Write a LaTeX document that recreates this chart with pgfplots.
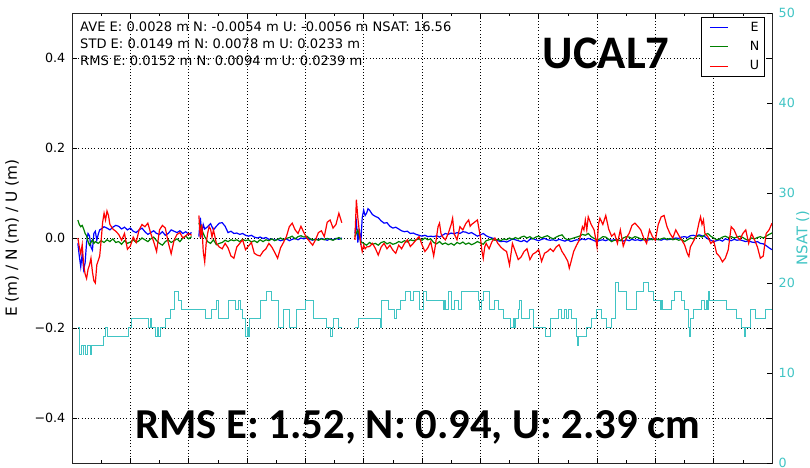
\documentclass[border=0pt]{standalone}
\usepackage{fontspec}
\setmainfont{DejaVu Sans}
\newfontfamily\calib{Carlito}
\usepackage{pgfplots}
\pgfplotsset{compat=1.18}
\definecolor{nsat}{rgb}{0.25,0.77,0.77}
\definecolor{mplb}{rgb}{0,0,1}
\definecolor{mplg}{rgb}{0,0.5,0}
\definecolor{mplr}{rgb}{1,0,0}
\begin{document}
\begin{tikzpicture}
\begin{axis}[
  name=ax,
  scale only axis, width=525pt, height=337.5pt,
  xmin=0, xmax=24, ymin=-0.5, ymax=0.5,
  xtick={0,2,...,24}, minor xtick={1,3,...,23}, xticklabels={},
  ytick={-0.4,-0.2,0,0.2,0.4}, yticklabels={−0.4,−0.2,0.0,0.2,0.4},
  tick align=inside, major tick length=4pt, minor tick length=2pt,
  tick style={black, line width=0.5pt},
  grid=major, major grid style={dotted, line width=0.5pt, black},
  axis line style={line width=0.7pt, black!85},
  unbounded coords=jump,
  tick label style={font=\fontsize{9.5}{11}\selectfont},
  yticklabel style={xshift=-1.5pt},
  ylabel={E (m) / N (m) / U (m)},
  every axis y label/.style={at={(axis description cs:-0.0857,0.5)}, rotate=90, anchor=center, font=\fontsize{11.5}{13}\selectfont},
  legend style={at={(rel axis cs:0.99,0.991)}, anchor=north east, draw=black, line width=0.6pt, font=\fontsize{9.5}{11}\selectfont, inner xsep=2pt, inner ysep=1.5pt, row sep=2pt, fill=white},
  legend image code/.code={\path[draw=none, fill=none] (0pt,-5pt) rectangle (32pt,6pt); \draw[#1, line width=0.7pt] (4pt,0pt) -- (18pt,0pt);},
]
\addplot[mplb, line width=0.9pt] coordinates {
(0.20,-0.012) (0.25,-0.040) (0.30,-0.064) (0.35,-0.035) (0.40,-0.070) (0.45,-0.055) (0.50,-0.010) (0.55,0.010) (0.60,0.005) (0.65,-0.020) (0.70,-0.027) (0.75,0.010) (0.80,0.015) (0.85,-0.005) (0.90,0.008) (0.95,0.018) (1.00,0.020) (1.10,0.025) (1.20,0.022) (1.30,0.018) (1.40,0.024) (1.50,0.028) (1.60,0.026) (1.70,0.020) (1.80,0.024) (1.90,0.018) (2.00,0.022) (2.10,0.015) (2.20,0.012) (2.30,0.018) (2.40,0.022) (2.50,0.014) (2.60,0.008) (2.70,0.012) (2.80,0.016) (2.90,0.010) (3.00,0.008) (3.10,0.014) (3.20,0.006) (3.30,0.010) (3.40,0.018) (3.50,0.015) (3.60,0.012) (3.70,0.016) (3.80,0.010) (3.90,0.014) (4.00,0.008) (4.10,0.012) (4.2,nan)
(4.35,0.003) (4.40,0.045) (4.45,0.010) (4.50,0.030) (4.55,0.020) (4.65,0.025) (4.75,0.032) (4.85,0.018) (4.95,0.026) (5.05,0.033) (5.15,0.034) (5.25,0.026) (5.35,0.012) (5.45,0.015) (5.55,0.010) (5.65,0.011) (5.75,0.008) (5.85,0.010) (5.95,0.006) (6.05,0.004) (6.15,0.006) (6.25,0.002) (6.35,0.000) (6.45,0.002) (6.55,-0.001) (6.65,0.001) (6.75,-0.003) (6.85,-0.002) (6.95,-0.005) (7.05,-0.003) (7.15,-0.006) (7.25,-0.004) (7.35,-0.002) (7.45,-0.006) (7.55,-0.003) (7.65,-0.001) (7.75,-0.004) (7.85,0.000) (7.95,-0.002) (8.05,0.001) (8.15,-0.003) (8.25,-0.005) (8.35,-0.002) (8.45,-0.004) (8.55,-0.001) (8.65,-0.003) (8.75,-0.005) (8.85,-0.002) (8.95,-0.004) (9.05,-0.001) (9.15,-0.003) (9.25,0.000) (9.4,nan)
(9.70,0.010) (9.75,0.035) (9.80,-0.010) (9.85,0.020) (9.90,-0.015) (9.95,0.045) (10.00,0.062) (10.05,0.050) (10.10,0.055) (10.15,0.065) (10.20,0.062) (10.30,0.052) (10.40,0.048) (10.50,0.045) (10.60,0.038) (10.70,0.033) (10.80,0.034) (10.90,0.026) (11.00,0.022) (11.10,0.024) (11.20,0.020) (11.30,0.016) (11.40,0.014) (11.50,0.015) (11.60,0.010) (11.70,0.011) (11.80,0.008) (11.90,0.006) (12.00,0.004) (12.10,0.006) (12.20,0.003) (12.30,0.004)
(12.40,0.003) (12.50,0.005) (12.60,0.002) (12.70,0.006) (12.80,0.010) (12.90,0.008) (13.00,0.011) (13.10,0.009) (13.20,0.012) (13.30,0.010) (13.40,0.014) (13.50,0.013) (13.60,0.010) (13.70,0.012) (13.80,0.008) (13.90,0.004) (14.00,0.007) (14.10,0.010) (14.20,0.005) (14.30,0.002) (14.40,0.000) (14.50,-0.002) (14.60,-0.006) (14.70,-0.008) (14.80,-0.007) (14.90,-0.009) (15.00,-0.006) (15.10,-0.002) (15.20,-0.004) (15.30,-0.006) (15.40,-0.008) (15.50,-0.005) (15.60,-0.009) (15.70,-0.003) (15.80,-0.001) (15.90,-0.004) (16.00,-0.006) (16.10,-0.003) (16.20,-0.001) (16.30,-0.004) (16.40,-0.005)
(16.50,-0.004) (16.60,-0.006) (16.70,-0.003) (16.80,-0.005) (16.90,-0.007) (17.00,-0.004) (17.10,-0.008) (17.20,-0.006) (17.30,-0.004) (17.40,-0.005) (17.50,-0.002) (17.60,-0.004) (17.70,-0.001) (17.80,-0.003) (17.90,-0.006) (18.00,-0.008) (18.10,-0.005) (18.20,-0.004) (18.30,-0.006) (18.40,-0.003) (18.50,-0.005) (18.60,-0.004) (18.70,-0.006) (18.80,-0.005) (18.90,-0.007) (19.00,-0.004) (19.10,-0.006) (19.20,-0.003) (19.30,-0.005) (19.40,-0.004) (19.50,-0.006) (19.60,-0.003) (19.70,-0.005) (19.80,-0.004) (19.90,-0.002) (20.00,-0.004) (20.10,-0.003) (20.20,-0.005) (20.30,-0.002) (20.40,-0.004) (20.50,-0.003)
(20.60,-0.002) (20.70,0.000) (20.80,-0.001) (20.90,0.002) (21.00,0.003) (21.10,0.001) (21.20,0.005) (21.30,0.006) (21.40,0.004) (21.50,0.007) (21.60,0.005) (21.70,0.003) (21.80,-0.002) (21.90,-0.005) (22.00,-0.008) (22.10,-0.006) (22.20,-0.004) (22.30,-0.007) (22.40,-0.002) (22.50,-0.004) (22.60,-0.006) (22.70,-0.003) (22.80,-0.005) (22.90,-0.004) (23.00,-0.006) (23.10,-0.008) (23.20,-0.006) (23.30,-0.009) (23.40,-0.010) (23.50,-0.008) (23.60,-0.012) (23.70,-0.013) (23.80,-0.017) (23.90,-0.022) (24.00,-0.026)
};
\addlegendentry{E}
\addplot[mplg, line width=0.9pt] coordinates {
(0.20,0.040) (0.25,0.030) (0.30,0.025) (0.35,0.028) (0.40,0.020) (0.45,0.010) (0.50,0.005) (0.55,-0.008) (0.60,-0.016) (0.65,-0.010) (0.70,-0.004) (0.75,-0.012) (0.80,-0.008) (0.90,-0.012) (1.00,-0.006) (1.10,-0.010) (1.20,-0.004) (1.30,-0.008) (1.40,-0.002) (1.50,-0.010) (1.60,-0.008) (1.70,-0.014) (1.80,-0.006) (1.90,-0.012) (2.00,-0.009) (2.10,-0.004) (2.20,-0.010) (2.30,-0.006) (2.40,0.000) (2.50,-0.004) (2.60,-0.008) (2.70,-0.002) (2.80,0.002) (2.90,-0.006) (3.00,-0.012) (3.10,-0.016) (3.20,-0.008) (3.30,-0.004) (3.40,-0.010) (3.50,-0.006) (3.60,-0.002) (3.70,-0.008) (3.80,0.000) (3.90,0.004) (4.00,-0.002) (4.10,0.003) (4.2,nan)
(4.35,0.033) (4.45,0.018) (4.55,0.003) (4.65,-0.008) (4.75,-0.012) (4.85,-0.004) (4.95,-0.015) (5.05,-0.012) (5.15,-0.010) (5.25,-0.005) (5.35,-0.008) (5.45,-0.004) (5.55,-0.006) (5.65,-0.004) (5.75,-0.008) (5.85,-0.003) (5.95,-0.006) (6.05,-0.004) (6.15,-0.009) (6.25,-0.006) (6.35,-0.010) (6.45,-0.004) (6.55,-0.008) (6.65,-0.004) (6.75,-0.006) (6.85,-0.002) (6.95,-0.006) (7.05,-0.003) (7.15,0.000) (7.25,-0.004) (7.35,-0.001) (7.45,0.001) (7.55,0.004) (7.65,-0.002) (7.75,0.003) (7.85,0.005) (7.95,0.002) (8.05,0.004) (8.15,-0.001) (8.25,-0.004) (8.35,-0.003) (8.45,-0.005) (8.55,-0.002) (8.65,-0.004) (8.75,-0.001) (8.85,-0.003) (8.95,-0.005) (9.05,-0.002) (9.15,0.001) (9.25,-0.003) (9.4,nan)
(9.70,0.003) (9.80,0.018) (9.90,-0.008) (10.00,-0.012) (10.10,-0.016) (10.20,-0.010) (10.30,-0.014) (10.40,-0.012) (10.50,-0.016) (10.60,-0.010) (10.70,-0.008) (10.80,-0.013) (10.90,-0.010) (11.00,-0.014) (11.10,-0.012) (11.20,-0.008) (11.30,-0.010) (11.40,-0.006) (11.50,-0.009) (11.60,-0.004) (11.70,-0.006) (11.80,-0.004) (11.90,-0.002) (12.00,-0.005) (12.10,0.000) (12.20,-0.004) (12.30,-0.002)
(12.40,-0.010) (12.50,-0.013) (12.60,-0.008) (12.70,-0.014) (12.80,-0.011) (12.90,-0.015) (13.00,-0.012) (13.10,-0.016) (13.20,-0.010) (13.30,-0.013) (13.40,-0.009) (13.50,-0.014) (13.60,-0.011) (13.70,-0.015) (13.80,-0.012) (13.90,-0.008) (14.00,-0.011) (14.10,-0.014) (14.20,-0.006) (14.30,-0.004) (14.40,-0.002) (14.50,-0.005) (14.60,-0.003) (14.70,-0.006) (14.80,-0.002) (14.90,-0.004) (15.00,0.000) (15.10,-0.003) (15.20,0.001) (15.30,-0.002) (15.40,0.002) (15.50,0.004) (15.60,0.000) (15.70,0.003) (15.80,-0.002) (15.90,0.002) (16.00,0.004) (16.10,0.000) (16.20,0.003) (16.30,0.005) (16.40,0.001)
(16.50,-0.002) (16.60,0.002) (16.70,0.005) (16.80,0.007) (16.90,-0.001) (17.00,-0.004) (17.10,-0.002) (17.20,0.000) (17.30,0.002) (17.40,0.004) (17.50,0.008) (17.60,0.006) (17.70,0.010) (17.80,0.003) (17.90,-0.001) (18.00,-0.004) (18.10,-0.002) (18.20,0.003) (18.30,0.002) (18.40,-0.003) (18.50,-0.008) (18.60,-0.005) (18.70,-0.004) (18.80,-0.006) (18.90,0.000) (19.00,0.003) (19.10,0.002) (19.20,-0.001) (19.30,0.003) (19.40,0.001) (19.50,-0.002) (19.60,-0.004) (19.70,-0.003) (19.80,-0.001) (19.90,-0.004) (20.00,-0.001) (20.10,-0.004) (20.20,-0.002) (20.30,0.000) (20.40,-0.003) (20.50,-0.001)
(20.60,-0.004) (20.70,-0.002) (20.80,-0.005) (20.90,-0.003) (21.00,-0.008) (21.10,-0.004) (21.20,0.000) (21.30,-0.002) (21.40,0.003) (21.50,0.005) (21.60,0.002) (21.70,0.007) (21.80,0.010) (21.90,0.004) (22.00,0.000) (22.10,-0.004) (22.20,-0.002) (22.30,0.002) (22.40,0.004) (22.50,0.001) (22.60,0.003) (22.70,0.000) (22.80,0.002) (22.90,0.004) (23.00,0.001) (23.10,-0.003) (23.20,-0.005) (23.30,0.000) (23.40,-0.002) (23.50,0.001) (23.60,0.003) (23.70,0.000) (23.80,0.004) (23.90,0.008) (24.00,0.011)
};
\addlegendentry{N}
\addplot[mplr, line width=0.9pt] coordinates {
(0.20,0.000) (0.25,-0.020) (0.30,-0.035) (0.35,-0.015) (0.40,-0.060) (0.45,-0.080) (0.50,-0.090) (0.55,-0.070) (0.60,-0.060) (0.65,-0.045) (0.70,-0.075) (0.75,-0.095) (0.80,-0.100) (0.85,-0.060) (0.90,-0.050) (0.95,-0.040) (1.00,-0.005) (1.05,0.035) (1.10,0.055) (1.15,0.040) (1.20,0.060) (1.25,0.050) (1.30,0.030) (1.40,0.020) (1.50,0.015) (1.60,0.008) (1.70,-0.005) (1.80,0.010) (1.90,-0.025) (2.00,-0.018) (2.10,0.002) (2.20,-0.010) (2.30,0.018) (2.40,0.030) (2.50,0.025) (2.60,0.033) (2.70,0.010) (2.80,-0.008) (2.90,-0.030) (3.00,0.018) (3.10,0.028) (3.20,0.022) (3.30,-0.010) (3.40,-0.035) (3.50,-0.005) (3.60,0.008) (3.70,0.012) (3.80,0.000) (3.90,0.005) (4.00,0.010) (4.10,0.006) (4.2,nan)
(4.35,0.050) (4.40,0.000) (4.45,0.030) (4.50,-0.030) (4.55,-0.053) (4.60,-0.012) (4.65,0.010) (4.70,0.025) (4.75,0.020) (4.80,0.002) (4.85,0.018) (4.95,-0.012) (5.05,-0.020) (5.15,-0.024) (5.25,-0.012) (5.35,-0.022) (5.45,-0.040) (5.55,-0.045) (5.65,-0.020) (5.75,-0.012) (5.85,-0.004) (5.95,-0.026) (6.05,-0.018) (6.15,-0.010) (6.25,-0.034) (6.35,-0.038) (6.45,-0.040) (6.55,-0.030) (6.65,-0.024) (6.75,-0.012) (6.85,-0.020) (6.95,-0.032) (7.05,-0.045) (7.15,-0.022) (7.25,-0.010) (7.35,0.003) (7.45,0.025) (7.55,0.033) (7.65,0.018) (7.75,0.010) (7.85,0.026) (7.95,0.012) (8.05,0.000) (8.15,-0.008) (8.25,-0.016) (8.35,-0.004) (8.45,0.012) (8.55,0.016) (8.65,0.003) (8.75,0.035) (8.85,0.040) (8.95,0.022) (9.05,0.030) (9.15,0.055) (9.25,0.034) (9.4,nan)
(9.70,-0.004) (9.75,0.085) (9.80,0.045) (9.85,0.015) (9.90,-0.012) (9.95,-0.030) (10.00,-0.016) (10.05,-0.024) (10.10,-0.020) (10.20,-0.019) (10.30,-0.012) (10.40,-0.023) (10.50,-0.038) (10.60,-0.020) (10.70,-0.012) (10.80,-0.024) (10.90,-0.016) (11.00,-0.027) (11.10,-0.034) (11.20,-0.016) (11.30,-0.024) (11.40,-0.012) (11.50,-0.004) (11.60,-0.019) (11.70,-0.012) (11.80,-0.004) (11.90,0.003) (12.00,-0.015) (12.10,-0.030) (12.20,-0.022) (12.30,-0.008)
(12.40,-0.040) (12.45,-0.020) (12.50,0.003) (12.55,0.025) (12.60,0.033) (12.65,0.010) (12.70,0.003) (12.80,-0.004) (12.90,0.010) (13.00,0.030) (13.05,0.044) (13.10,0.010) (13.20,-0.004) (13.30,0.025) (13.40,0.018) (13.50,0.032) (13.60,0.040) (13.65,0.026) (13.70,0.030) (13.80,0.035) (13.90,0.040) (14.00,0.003) (14.05,-0.027) (14.10,-0.045) (14.15,-0.020) (14.20,-0.012) (14.30,-0.024) (14.40,-0.008) (14.50,0.000) (14.60,-0.012) (14.70,-0.020) (14.80,-0.026) (14.90,-0.030) (15.00,-0.060) (15.05,-0.036) (15.10,-0.012) (15.20,-0.030) (15.30,-0.048) (15.40,-0.042) (15.50,-0.030) (15.60,-0.024) (15.70,-0.048) (15.80,-0.036) (15.90,-0.032) (16.00,-0.026) (16.10,-0.052) (16.20,-0.034) (16.30,-0.030) (16.40,-0.024)
(16.50,-0.030) (16.60,-0.020) (16.70,-0.015) (16.80,-0.030) (16.90,-0.040) (17.00,-0.052) (17.05,-0.067) (17.10,-0.055) (17.20,-0.030) (17.30,-0.016) (17.40,-0.004) (17.50,0.025) (17.55,0.018) (17.60,0.040) (17.65,0.018) (17.70,0.047) (17.80,0.030) (17.90,0.018) (17.95,0.000) (18.00,-0.020) (18.05,0.030) (18.10,0.044) (18.20,0.030) (18.30,0.050) (18.40,0.020) (18.50,0.004) (18.60,0.010) (18.70,-0.012) (18.80,0.018) (18.90,-0.018) (19.00,0.000) (19.10,0.010) (19.20,0.028) (19.30,0.033) (19.40,0.026) (19.50,0.018) (19.60,0.000) (19.70,-0.012) (19.80,0.018) (19.90,0.003) (20.00,-0.005) (20.10,0.030) (20.20,0.047) (20.30,0.050) (20.40,0.025) (20.50,0.010)
(20.60,0.000) (20.70,0.018) (20.80,0.006) (20.90,-0.004) (21.00,-0.015) (21.10,-0.035) (21.15,-0.041) (21.20,-0.020) (21.30,-0.008) (21.40,0.004) (21.50,0.035) (21.55,0.047) (21.60,0.030) (21.65,0.040) (21.70,0.010) (21.80,0.003) (21.90,-0.012) (22.00,-0.006) (22.10,-0.034) (22.20,-0.041) (22.30,-0.053) (22.40,-0.045) (22.50,-0.026) (22.60,0.025) (22.70,0.018) (22.80,0.003) (22.90,-0.004) (23.00,0.010) (23.10,0.018) (23.20,-0.012) (23.30,0.010) (23.40,-0.004) (23.50,-0.020) (23.60,-0.045) (23.70,-0.040) (23.80,0.010) (23.90,0.018) (24.00,0.033)
};
\addlegendentry{U}
\node[anchor=north west, align=left, inner sep=0pt, font=\fontsize{9.8}{12.75}\selectfont] at (rel axis cs:0.0114,0.982) {AVE E: 0.0028 m N: -0.0054 m U: -0.0056 m NSAT: 16.56\\STD E: 0.0149 m N: 0.0078 m U: 0.0233 m\\RMS E: 0.0152 m N: 0.0094 m U: 0.0239 m};
\end{axis}
\begin{axis}[
  scale only axis, width=525pt, height=337.5pt,
  xmin=0, xmax=24, ymin=0, ymax=50,
  axis x line=none, axis y line*=right,
  ytick={0,10,...,50}, yticklabels={0,10,20,30,40,50},
  tick align=inside, major tick length=4pt,
  tick style={black, line width=0.5pt},
  axis line style={line width=0.7pt, black!85},
  unbounded coords=jump,
  yticklabel style={font=\fontsize{9.5}{11}\selectfont, text=nsat, xshift=1.5pt},
  ylabel={NSAT ()},
  every axis y label/.style={at={(axis description cs:1.044,0.5)}, rotate=90, anchor=center, font=\fontsize{11}{13}\selectfont, text=nsat},
]
\addplot[nsat, line width=0.75pt, const plot] coordinates {
(0.21,15) (0.25,12) (0.32,13) (0.38,12) (0.41,13) (0.48,12) (0.52,13) (0.62,12) (0.68,13) (1.07,14) (1.15,15) (1.22,14) (1.93,15) (2.05,16) (2.62,15) (2.70,16) (2.74,15) (2.85,14) (2.92,15) (2.96,14) (3.02,15) (3.19,16) (3.36,17) (3.53,19) (3.64,18) (3.76,17) (4.56,16) (4.79,17) (4.96,18) (5.02,16) (5.36,18) (5.59,17) (5.70,18) (5.76,17) (5.86,16) (5.95,14) (6.00,15) (6.05,14) (6.10,16) (6.45,18) (6.67,19) (6.85,18) (7.07,15) (7.25,17) (7.47,15) (7.70,17) (7.99,18) (8.27,16) (8.73,15) (8.87,14) (8.93,15) (8.96,16) (9.13,15) (9.26,15) (9.4,nan)
(9.70,15) (9.82,16) (10.56,15) (10.60,18) (10.84,17) (11.07,16) (11.13,17) (11.25,18) (11.42,19) (11.59,18) (11.70,19) (11.93,17) (12.05,19) (12.16,18) (12.73,17) (12.78,18) (12.82,17) (12.90,19) (13.02,17) (13.13,18) (13.24,17) (13.36,19) (13.93,18) (13.98,17) (14.03,18) (14.10,19) (14.33,17) (14.50,18) (14.62,17) (14.79,16) (15.02,15) (15.13,16) (15.18,15) (15.22,16) (15.30,17) (15.35,18) (15.42,16) (15.70,17) (15.82,15) (16.22,14) (16.39,16) (16.67,17) (16.79,16) (16.90,17) (16.96,16) (17.02,17) (17.13,16) (17.30,14) (17.33,13) (17.36,14) (17.64,15) (17.82,16) (17.99,17) (18.16,16) (18.33,15) (18.51,16) (18.62,20) (18.73,19) (19.02,17) (19.36,19) (19.59,20) (19.76,19) (19.93,18) (20.16,17) (20.22,18) (20.26,17) (20.56,18) (20.67,19) (20.90,18) (21.01,17) (21.13,15) (21.16,14) (21.19,16) (21.30,17) (21.59,18) (21.70,17) (21.74,18) (21.78,17) (21.82,19) (21.87,18) (22.44,17) (22.79,16) (22.96,15) (23.05,14) (23.10,15) (23.25,17) (23.42,16) (23.76,17) (24.00,17)
};
\node[font=\calib\bfseries\fontsize{35}{40}\selectfont, inner sep=0pt] at (rel axis cs:0.763,0.911) {UCAL7};
\node[font=\calib\bfseries\fontsize{32}{38}\selectfont, inner sep=0pt] at (rel axis cs:0.494,0.078) {RMS E: 1.52, N: 0.94, U: 2.39 cm};
\end{axis}
\pgfresetboundingbox
\path[use as bounding box] ([xshift=-54pt,yshift=-3.75pt]ax.south west) rectangle ([xshift=28.5pt,yshift=9.75pt]ax.north east);
\end{tikzpicture}
\end{document}
